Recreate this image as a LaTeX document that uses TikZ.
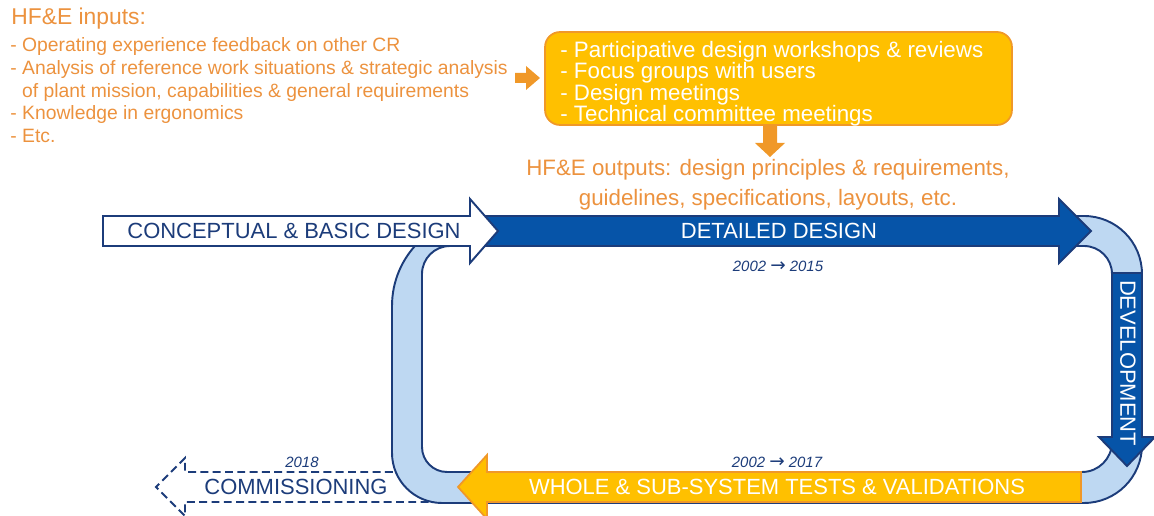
\documentclass[tikz,border=0pt]{standalone}
\usepackage{fontspec}
\setmainfont{Liberation Sans}
\newfontfamily\arrowfont{DejaVu Sans}
\definecolor{hfeorange}{RGB}{236,146,62}
\definecolor{gold}{RGB}{255,192,0}
\definecolor{boxorange}{RGB}{240,152,40}
\definecolor{deepblue}{RGB}{6,84,168}
\definecolor{navy}{RGB}{28,60,122}
\definecolor{bandblue}{RGB}{190,216,242}
\newcommand{\yrarrow}{{\arrowfont\fontsize{10.5}{10}\selectfont →}}

\begin{document}
\begin{tikzpicture}[x=0.02cm, y=0.02cm,
  outline/.style={draw=navy, line width=1.1pt, line join=miter},
  biglabel/.style={font=\fontsize{12.5}{14}\selectfont, inner sep=0pt},
  years/.style={font=\fontsize{8.5}{10}\selectfont\itshape, text=navy, inner sep=0pt}]
  \useasboundingbox (0,0) rectangle (1154,-516);

  % inputs and workshops
  \node[anchor=west, text=hfeorange, font=\fontsize{13}{15}\selectfont, inner sep=0pt] (inputs) at (11,-19) {HF\&E inputs:};
  \node[anchor=north west, align=left, text=hfeorange, font=\fontsize{11}{13}\selectfont, inner sep=0pt] (inlist) at (10,-37)
    {- Operating experience feedback on other CR\\
     - Analysis of reference work situations \& strategic analysis\\
     \phantom{- }of plant mission, capabilities \& general requirements\\
     - Knowledge in ergonomics\\
     - Etc.};
  \node[fill=gold, draw=boxorange, line width=1pt, rounded corners=0.3cm,
        minimum width=9.34cm, minimum height=1.86cm] (work) at (778.5,-78.5) {};
  \node[anchor=north west, align=left, text=white, inner sep=0pt,
        font=\fontsize{12.7}{12.2}\selectfont] (worklist) at (560,-41)
    {- Participative design workshops \& reviews\\
     - Focus groups with users\\
     - Design meetings\\
     - Technical committee meetings};
  \fill[boxorange] (515,-73) -- (526,-73) -- (526,-66) -- (540,-78) -- (526,-90) -- (526,-83) -- (515,-83) -- cycle;
  \fill[boxorange] (763,-125) -- (777,-125) -- (777,-143) -- (785,-143) -- (770,-157) -- (755,-143) -- (763,-143) -- cycle;
  \node[align=center, text=hfeorange, font=\fontsize{12.7}{17}\selectfont, inner sep=0pt] (outputs) at (768,-185)
    {HF\&E outputs: design principles \& requirements,\\guidelines, specifications, layouts, etc.};

  % commissioning (dashed), then the loop band
  \draw[navy, dashed, dash pattern=on 4.5pt off 2.5pt, line width=1.1pt, fill=white]
    (442,-472) -- (185,-472) -- (185,-458) -- (156,-487) -- (185,-516) -- (185,-502) -- (442,-502);
  \filldraw[fill=bandblue, outline, even odd rule]
    (392,-306) arc (180:90:1.8cm) -- (1084,-216) arc (90:0:1.16cm)
    -- (1142,-445) arc (0:-90:1.16cm) -- (442,-503) arc (270:180:1cm) -- cycle
    (422,-274) arc (180:90:0.56cm) -- (1084,-246) arc (90:0:0.56cm)
    -- (1112,-442) arc (0:-90:0.6cm) -- (447,-472) arc (270:180:0.5cm) -- cycle;

  % phase arrows
  \filldraw[fill=gold, draw=boxorange, line width=1pt]
    (1081,-472) -- (487,-472) -- (487,-455) -- (458,-487) -- (487,-519) -- (487,-502) -- (1081,-502) -- cycle;
  \filldraw[fill=deepblue, outline]
    (1112,-273) -- (1142,-273) -- (1142,-437) -- (1155,-437) -- (1127,-466) -- (1099,-437) -- (1112,-437) -- cycle;
  \filldraw[fill=deepblue, outline]
    (470,-216) -- (1059,-216) -- (1059,-199) -- (1091,-231) -- (1059,-263) -- (1059,-246) -- (470,-246) -- cycle;
  \filldraw[fill=white, outline]
    (103,-216) -- (470,-216) -- (470,-199) -- (498,-231) -- (470,-263) -- (470,-246) -- (103,-246) -- cycle;

  \node[biglabel, text=navy] (concept) at (294,-231) {CONCEPTUAL \& BASIC DESIGN};
  \node[biglabel, text=white] (detailed) at (779,-231) {DETAILED DESIGN};
  \node[years] (y1) at (778,-266) {2002 \yrarrow{} 2015};
  \node[biglabel, text=white, rotate=-90] (devel) at (1128,-363) {DEVELOPMENT};
  \node[biglabel, text=white] (tests) at (777,-487) {WHOLE \& SUB-SYSTEM TESTS \& VALIDATIONS};
  \node[years] (y2) at (777,-462) {2002 \yrarrow{} 2017};
  \node[biglabel, text=navy] (commis) at (296,-487) {COMMISSIONING};
  \node[years] (y3) at (302,-462) {2018};
\end{tikzpicture}
\end{document}
